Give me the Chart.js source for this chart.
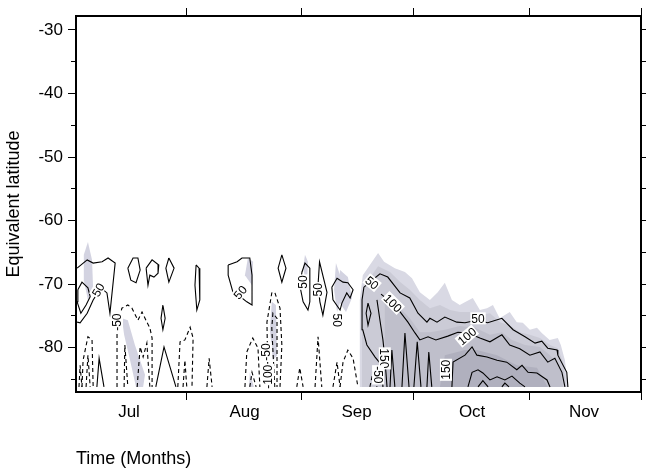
<!DOCTYPE html>
<html>
<head>
<meta charset="utf-8">
<script src="https://cdn.jsdelivr.net/npm/chart.js@4.4.1/dist/chart.umd.min.js"></script>
<style>
  body { margin: 0; background: #fff; }
  canvas { display: block; }
</style>
</head>
<body>
<canvas id="contourChart" width="646" height="470"></canvas>
<script>
// axes
const monthNames = ['Jul', 'Aug', 'Sep', 'Oct', 'Nov'];
const monthEnds = [31, 62, 92, 123, 153];   // days since 1 Jul
const latMajor = [-80, -70, -60, -50, -40, -30];
const latMinor = [-85, -80, -75, -70, -65, -60, -55, -50, -45, -40, -35, -30];
const dayRange = [1.5, 153];
const latRange = [-87, -27.8];

// shaded areas [day, latitude]
const shadeLight = [[77.6,-86.2],[77.6,-72.5],[78.4,-68.6],[80.3,-67.0],[82.5,-65.1],[84.1,-66.5],[87.0,-67.5],[89.7,-68.1],[91.6,-69.1],[93.7,-71.3],[96.4,-72.5],[98.5,-71.3],[100.4,-69.8],[102.3,-72.5],[104.4,-73.3],[106.0,-72.8],[107.9,-72.2],[109.8,-74.1],[111.7,-73.8],[113.3,-73.3],[115.1,-75.4],[117.8,-74.4],[119.7,-76.0],[121.3,-76.1],[123.2,-77.2],[125.1,-76.9],[126.4,-77.7],[128.5,-78.8],[130.7,-78.5],[131.5,-79.6],[132.6,-82.0],[133.4,-86.2]];
const shadeMid = [[78.4,-86.2],[78.2,-72.5],[79.0,-70.2],[82.5,-67.2],[85.7,-68.1],[88.4,-69.7],[91.0,-70.9],[93.7,-72.5],[96.4,-73.8],[99.1,-73.3],[101.8,-74.1],[104.4,-74.4],[107.1,-74.4],[109.8,-74.9],[112.5,-74.6],[115.2,-76.0],[117.8,-76.5],[120.5,-77.6],[123.2,-78.0],[125.9,-78.5],[128.6,-79.6],[130.7,-80.1],[132.1,-82.3],[132.9,-86.2]];
const shadeDark = [[84.3,-86.2],[84.3,-72.5],[88.4,-73.8],[91.0,-75.4],[93.7,-77.6],[96.4,-77.6],[100.4,-77.2],[104.4,-76.6],[108.5,-76.9],[112.5,-78.0],[115.7,-77.6],[118.4,-78.8],[121.9,-79.6],[125.9,-79.9],[128.6,-81.2],[131.2,-82.8],[132.1,-86.2]];
const shadeDeep = [[99.1,-86.2],[100.4,-81.2],[105.8,-80.4],[109.0,-80.4],[114.4,-81.2],[119.7,-82.8],[125.1,-83.2],[128.0,-86.2]];
const patches = [
  [[4.7,-63.4],[5.8,-66.2],[6.1,-70.9],[4.7,-72.5],[3.6,-69.4],[3.6,-65.4]],
  [[13.8,-75.4],[15.4,-75.7],[17.3,-79.6],[20.0,-84.3],[19.5,-86.2],[17.6,-86.2],[16.0,-82.0],[14.4,-78.0]],
  [[47.6,-65.9],[49.0,-66.5],[48.7,-70.2],[46.8,-68.6]],
  [[62.9,-65.4],[63.7,-66.5],[63.4,-70.2],[62.4,-67.5]],
  [[71.2,-66.7],[72.3,-68.6],[72.5,-72.5],[71.5,-74.4],[70.7,-70.9]],
  [[54.0,-72.8],[55.1,-73.3],[55.4,-81.2],[54.3,-82.0],[53.5,-77.2]],
  [[48.1,-83.9],[49.2,-86.2],[47.9,-86.2]],
  [[72.3,-67.8],[74.4,-68.9],[75.5,-72.2],[73.9,-74.4],[71.7,-72.5]]
];

// positive contours (solid)
const solidLines = [
  [[1.8,-67.5],[4.5,-66.2],[6.1,-66.7],[8.5,-66.5],[10.1,-65.9],[12.0,-66.7],[10.6,-74.6],[9.8,-71.4],[8.2,-70.6],[6.1,-72.5],[4.5,-74.6],[2.6,-76.1],[1.8,-76.0]],
  [[2.0,-70.9],[3.1,-69.7],[4.7,-70.6],[5.3,-72.0],[4.2,-73.3],[2.8,-74.6],[1.8,-72.8],[2.0,-70.9]],
  [[15.4,-67.5],[16.8,-65.9],[18.1,-65.9],[18.7,-67.8],[17.6,-69.8],[16.2,-69.4],[15.4,-67.5]],
  [[20.3,-67.5],[21.9,-66.2],[23.7,-67.0],[23.5,-68.3],[22.4,-68.9],[21.3,-68.6],[20.8,-70.2],[20.3,-67.5]],
  [[26.4,-65.9],[27.8,-67.5],[26.4,-69.7],[25.6,-67.5],[26.4,-65.9]],
  [[33.7,-67.0],[34.5,-67.5],[34.7,-72.5],[33.9,-74.1],[33.4,-70.2],[33.7,-67.0]],
  [[42.3,-67.0],[44.7,-66.5],[46.0,-65.9],[48.1,-65.9],[48.7,-68.6],[48.7,-73.3],[47.3,-72.8],[44.9,-71.7],[43.6,-71.3],[42.3,-68.6],[42.3,-67.0]],
  [[56.7,-65.4],[57.8,-67.5],[56.7,-69.7],[55.7,-67.5],[56.7,-65.4]],
  [[62.1,-68.1],[62.9,-66.7],[64.2,-67.5],[64.2,-72.8],[63.7,-74.1],[62.4,-72.8],[61.5,-70.2],[62.1,-68.1]],
  [[66.4,-70.2],[66.8,-66.5],[68.8,-71.3],[67.7,-74.9],[66.9,-72.8],[66.4,-70.2]],
  [[70.1,-70.5],[71.5,-69.1],[73.1,-69.7],[74.4,-69.8],[75.8,-70.9],[75.0,-72.2],[74.1,-71.4],[72.8,-73.0],[72.3,-74.1],[70.4,-72.5],[70.1,-70.5]],
  [[24.8,-73.3],[25.4,-75.4],[24.8,-77.2],[24.3,-75.4],[24.8,-73.3]],
  [[22.9,-86.2],[25.1,-79.9],[28.3,-86.2]],
  [[7.1,-86.2],[7.7,-81.7],[9.0,-86.2]],
  [[83.8,-86.2],[83.5,-82.8],[81.7,-81.5],[79.5,-79.6],[78.4,-77.2],[78.2,-72.5],[78.7,-70.5],[80.9,-69.4],[83.0,-68.4],[85.1,-68.9],[88.4,-71.4],[91.0,-72.2],[93.2,-74.6],[95.6,-76.0],[96.4,-75.4],[98.3,-76.0],[100.4,-75.2],[103.6,-76.0],[105.8,-76.1],[109.0,-75.7],[111.9,-76.1],[115.7,-75.4],[118.7,-77.2],[121.9,-78.3],[124.6,-79.3],[126.4,-79.0],[128.0,-80.1],[130.5,-80.4],[130.7,-81.2],[133.1,-83.9],[133.4,-86.2]],
  [[83.3,-71.6],[86.2,-73.0],[88.4,-74.4],[90.5,-76.0],[92.4,-77.7],[93.7,-78.8],[95.9,-78.3],[98.0,-78.8],[101.2,-78.2],[103.9,-77.6],[106.6,-77.7],[109.8,-78.5],[112.5,-79.1],[115.7,-78.0],[117.8,-79.6],[120.5,-80.2],[123.2,-81.2],[125.9,-80.7],[128.0,-82.3],[129.9,-81.7],[131.8,-83.9],[132.6,-86.2]],
  [[102.3,-86.2],[102.6,-82.3],[105.8,-81.2],[107.7,-79.9],[109.0,-81.2],[111.7,-81.5],[114.4,-82.0],[117.0,-82.3],[119.7,-83.5],[121.1,-82.8],[122.7,-83.9],[125.1,-84.0],[127.8,-85.1],[128.6,-86.2]],
  [[106.6,-86.2],[107.7,-83.9],[109.3,-83.5],[110.6,-84.0],[112.5,-85.1],[114.4,-84.6],[116.5,-85.1],[118.4,-84.5],[120.5,-85.6],[121.9,-86.2]],
  [[109.3,-86.2],[110.6,-85.2],[112.0,-86.2]],
  [[115.7,-86.2],[116.5,-85.6],[117.6,-86.2]],
  [[79.8,-73.0],[80.6,-74.6],[79.8,-76.5],[79.3,-74.6],[79.8,-73.0]],
  [[82.2,-72.5],[83.0,-75.7],[83.8,-78.8],[84.1,-80.4],[84.6,-83.9],[84.9,-86.2]],
  [[85.7,-86.2],[86.2,-80.4],[87.0,-86.2]],
  [[88.9,-86.2],[89.7,-77.7],[90.8,-86.2]],
  [[92.1,-86.2],[93.0,-79.1],[94.0,-86.2]],
  [[95.6,-86.2],[96.1,-80.7],[96.9,-86.2]]
];

// negative contours (dashed)
const dashedLines = [
  [[12.5,-86.2],[12.5,-77.2],[13.8,-73.8],[15.4,-73.3],[16.5,-73.8],[18.1,-75.7],[19.2,-74.4],[20.5,-76.0],[21.3,-76.9],[21.9,-78.5],[21.9,-86.2]],
  [[14.4,-86.2],[14.6,-79.6],[15.4,-86.2]],
  [[17.9,-86.2],[18.7,-79.9],[19.5,-81.5],[20.5,-79.3],[21.3,-86.2]],
  [[3.1,-86.2],[3.4,-82.0],[4.7,-78.3],[5.8,-78.8],[6.1,-86.2]],
  [[4.2,-86.2],[4.7,-81.2],[5.3,-86.2]],
  [[2.3,-86.2],[2.6,-82.8],[3.1,-86.2]],
  [[28.8,-86.2],[29.4,-79.1],[30.7,-78.8],[32.1,-76.8],[32.9,-78.5],[32.6,-86.2]],
  [[30.2,-86.2],[30.7,-82.0],[31.2,-86.2]],
  [[36.6,-86.2],[37.2,-81.7],[38.0,-86.2]],
  [[53.0,-86.2],[52.7,-76.0],[54.0,-71.4],[54.8,-71.3],[56.2,-73.8],[56.7,-79.6],[56.2,-86.2]],
  [[54.8,-86.2],[54.0,-76.9],[54.3,-74.6],[55.4,-75.4],[55.4,-86.2]],
  [[46.8,-86.2],[47.3,-80.7],[48.9,-78.5],[50.3,-80.1],[50.8,-86.2]],
  [[48.1,-86.2],[48.7,-83.9],[49.8,-86.2]],
  [[60.7,-86.2],[61.5,-83.2],[62.4,-86.2]],
  [[65.6,-86.2],[66.4,-78.3],[67.4,-86.2]],
  [[70.4,-86.2],[71.5,-82.3],[72.3,-86.2]],
  [[72.3,-86.2],[73.1,-82.3],[74.4,-80.4],[75.8,-81.7],[77.1,-86.2]],
  [[80.3,-86.2],[81.1,-84.0],[82.2,-86.2]]
];

// contour labels
const labelText = ['50', '-50', '50', '50', '50', '50', '-50', '-100', '50', '100', '150', '-50', '150', '50', '100'];
const labelDay = [7.4, 12.5, 45.5, 62.3, 66.4, 71.5, 52.4, 53.0, 80.9, 86.5, 84.3, 82.5, 100.7, 109.3, 106.3];
const labelLat = [-70.9, -76.0, -71.3, -69.7, -70.9, -75.7, -80.7, -84.6, -69.8, -73.0, -81.7, -84.3, -83.5, -75.4, -78.2];
const labelAngle = [-60, -90, -50, -90, -90, 90, -90, -90, 40, 45, 90, 90, -90, 0, -40];

const FONT = '"Liberation Sans", Arial, sans-serif';

function pts(a) {
    return a.map(p => ({ x: p[0], y: p[1] }));
}

function area(a, color, order) {
    return { data: pts(a), fill: 'shape', backgroundColor: color, borderWidth: 0, borderColor: 'rgba(0,0,0,0)', pointRadius: 0, order: order };
}

function contour(a, dashed) {
    return { data: pts(a), fill: false, borderColor: '#000', borderWidth: 1.1, borderDash: dashed ? [4, 3] : [], pointRadius: 0, order: 0 };
}

const datasets = [];
solidLines.forEach(a => datasets.push(contour(a, false)));
dashedLines.forEach(a => datasets.push(contour(a, true)));
patches.forEach(a => datasets.push(area(a, '#d3d3e1', 1)));
datasets.push(area(shadeDeep, '#b0b0be', 2));
datasets.push(area(shadeDark, '#bfbfcb', 3));
datasets.push(area(shadeMid, '#cbcbd6', 4));
datasets.push(area(shadeLight, '#d9d9e4', 5));

// ラベルを線の上に描く
const contourLabels = {
    id: 'contourLabels',
    afterDatasetsDraw(chart) {
        const { ctx, scales: { x, y } } = chart;
        ctx.save();
        ctx.font = '12px ' + FONT;
        ctx.textAlign = 'center';
        ctx.textBaseline = 'middle';
        labelText.forEach((t, i) => {
            ctx.save();
            ctx.translate(x.getPixelForValue(labelDay[i]), y.getPixelForValue(labelLat[i]));
            ctx.rotate(labelAngle[i] * Math.PI / 180);
            const w = ctx.measureText(t).width + 2;
            ctx.fillStyle = '#fff';
            ctx.fillRect(-w / 2, -6, w, 12);
            ctx.fillStyle = '#000';
            ctx.fillText(t, 0, 1);
            ctx.restore();
        });
        ctx.restore();
    }
};

const tickFont = { family: FONT, size: 17 };
const titleFont = { family: FONT, size: 18 };

new Chart(document.getElementById('contourChart').getContext('2d'), {
    type: 'line',
    data: { datasets: datasets },
    options: {
        responsive: false,
        animation: false,
        layout: { padding: 0 },
        plugins: { legend: { display: false }, tooltip: { enabled: false } },
        scales: {
            x: {
                type: 'linear',
                position: 'bottom',
                min: dayRange[0],
                max: dayRange[1],
                afterBuildTicks: s => { s.ticks = monthEnds.map(v => ({ value: v })); },
                afterFit: s => { s.height = 78; s.paddingLeft = 0; s.paddingRight = 0; },
                ticks: {
                    callback: (v, i) => monthNames[i],
                    labelOffset: -57,
                    autoSkip: false,
                    maxRotation: 0,
                    padding: 2,
                    color: '#000',
                    font: tickFont
                },
                grid: { drawOnChartArea: false, tickLength: 8, tickColor: '#000' },
                border: { color: '#000', width: 2 },
                title: { display: true, text: 'Time (Months)', align: 'start', color: '#000', font: titleFont, padding: { top: 0, bottom: 0 } }
            },
            xTop: {
                type: 'linear',
                position: 'top',
                min: dayRange[0],
                max: dayRange[1],
                afterBuildTicks: s => { s.ticks = monthEnds.map(v => ({ value: v })); },
                afterFit: s => { s.height = 16; s.paddingLeft = 0; s.paddingRight = 0; },
                ticks: { display: false },
                grid: { drawOnChartArea: false, tickLength: 8, tickColor: '#000' },
                border: { color: '#000', width: 2 }
            },
            y: {
                type: 'linear',
                position: 'left',
                weight: 1,
                min: latRange[0],
                max: latRange[1],
                afterBuildTicks: s => { s.ticks = latMajor.map(v => ({ value: v })); },
                afterFit: s => { s.width = 76; s.paddingTop = 0; s.paddingBottom = 0; },
                ticks: { callback: v => String(v), padding: 5, color: '#000', font: tickFont },
                grid: { drawOnChartArea: false, tickLength: 8, tickColor: '#000' },
                border: { color: '#000', width: 2 },
                title: { display: true, text: 'Equivalent latitude', color: '#000', font: titleFont, padding: { top: 3, bottom: 0 } }
            },
            yMinor: {
                type: 'linear',
                position: 'left',
                weight: 0,
                min: latRange[0],
                max: latRange[1],
                afterBuildTicks: s => { s.ticks = latMinor.map(v => ({ value: v })); },
                afterFit: s => { s.width = 0; },
                ticks: { display: false },
                grid: { drawOnChartArea: false, tickLength: 5, tickColor: '#000' },
                border: { display: false }
            },
            yRight: {
                type: 'linear',
                position: 'right',
                min: latRange[0],
                max: latRange[1],
                afterBuildTicks: s => { s.ticks = latMinor.map(v => ({ value: v })); },
                afterFit: s => { s.width = 5; },
                ticks: { display: false },
                grid: { drawOnChartArea: false, tickLength: 8, tickColor: '#000' },
                border: { color: '#000', width: 2 }
            }
        }
    },
    plugins: [contourLabels]
});
</script>
</body>
</html>
